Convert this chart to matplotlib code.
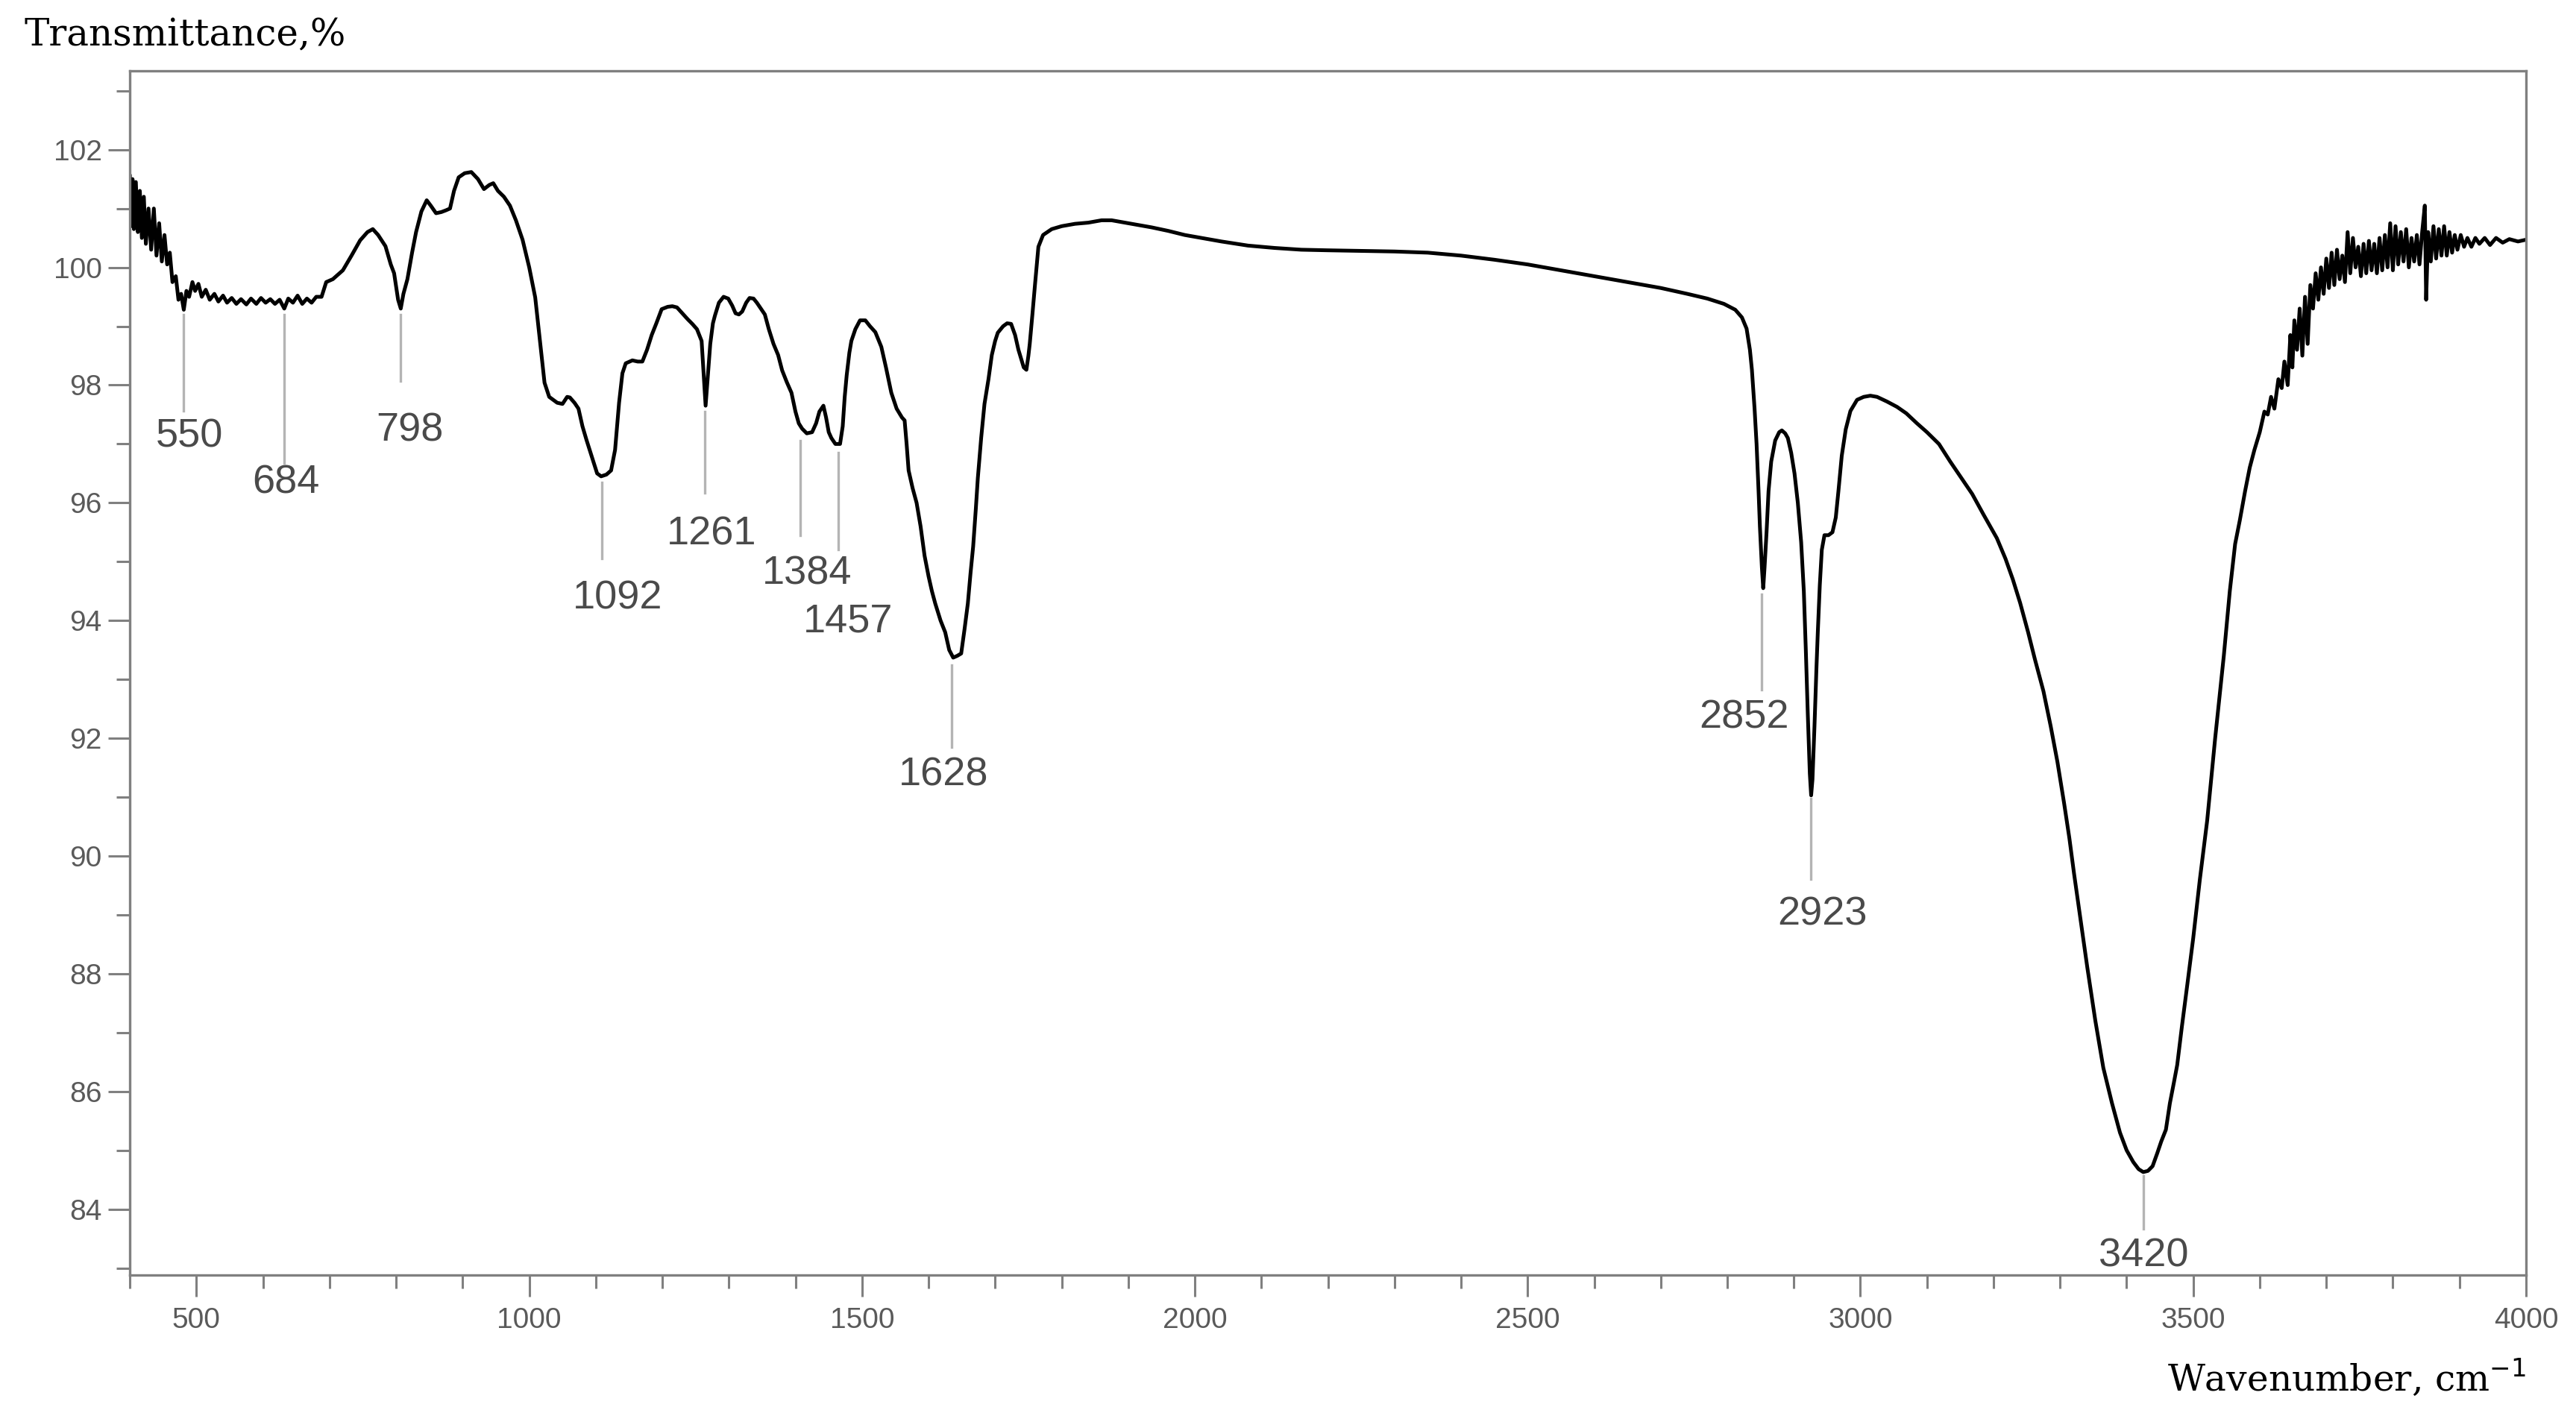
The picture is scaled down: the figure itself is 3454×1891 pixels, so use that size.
import numpy as np
import matplotlib
matplotlib.use('Agg')
import matplotlib.pyplot as plt
from matplotlib.ticker import MultipleLocator

# ---- spectrum (wavenumber cm-1 , transmittance %) ----
wavenumber = [
   400, 402, 404, 406, 409, 412, 415, 418, 421, 424, 428, 432, 436, 440, 444, 448,
   452, 456, 460, 464, 469, 473, 477, 481, 485, 489, 494, 498, 503, 508, 514, 520,
   527, 533, 540, 546, 553, 560, 567, 575, 582, 590, 597, 604, 611, 618, 625, 632,
   638, 645, 652, 659, 666, 673, 680, 688, 695, 705, 720, 733, 746, 757, 765, 773,
   784, 792, 797, 803, 807, 811, 817, 824, 830, 838, 846, 852, 860, 868, 875, 881,
   887, 894, 903, 913, 923, 932, 940, 946, 953, 962, 971, 980, 990, 1000, 1009, 1016,
   1023, 1030, 1042, 1050, 1057, 1061, 1068, 1074, 1080, 1086, 1095, 1102, 1108, 1116, 1123, 1129,
   1135, 1140, 1145, 1155, 1163, 1170, 1177, 1184, 1191, 1199, 1208, 1215, 1222, 1230, 1238, 1245,
   1252, 1259, 1262, 1265, 1268, 1272, 1276, 1279, 1285, 1292, 1299, 1305, 1310, 1315, 1320, 1326,
   1331, 1337, 1342, 1348, 1354, 1360, 1367, 1374, 1380, 1387, 1394, 1400, 1405, 1410, 1417, 1425,
   1431, 1436, 1442, 1446, 1450, 1454, 1460, 1467, 1471, 1474, 1477, 1481, 1484, 1490, 1497, 1505,
   1512, 1520, 1529, 1536, 1544, 1552, 1560, 1564, 1567, 1570, 1576, 1582, 1588, 1594, 1600, 1605,
   1610, 1618, 1625, 1631, 1637, 1643, 1649, 1654, 1659, 1663, 1667, 1671, 1674, 1679, 1684, 1690,
   1695, 1700, 1704, 1712, 1718, 1724, 1730, 1735, 1739, 1743, 1747, 1750, 1752, 1756, 1760, 1765,
   1772, 1785, 1800, 1820, 1840, 1860, 1875, 1890, 1910, 1935, 1960, 1985, 2010, 2040, 2080, 2120,
   2160, 2200, 2250, 2300, 2350, 2400, 2450, 2500, 2550, 2600, 2650, 2700, 2740, 2770, 2795, 2812,
   2822, 2829, 2834, 2837, 2841, 2844, 2847, 2849, 2852, 2854, 2856, 2859, 2862, 2866, 2872, 2878,
   2882, 2887, 2891, 2896, 2901, 2906, 2911, 2915, 2918, 2921, 2924, 2926, 2928, 2931, 2934, 2936,
   2939, 2942, 2946, 2952, 2958, 2963, 2967, 2972, 2978, 2985, 2995, 3005, 3015, 3025, 3040, 3055,
   3069, 3085, 3100, 3118, 3135, 3150, 3168, 3185, 3205, 3218, 3229, 3240, 3252, 3262, 3275, 3286,
   3296, 3306, 3314, 3321, 3331, 3341, 3353, 3365, 3378, 3390, 3400, 3410, 3418, 3425, 3432, 3439,
   3446, 3452, 3459, 3465, 3471, 3476, 3483, 3491, 3500, 3510, 3521, 3533, 3546, 3555, 3563, 3570,
   3578, 3585, 3592, 3600, 3607, 3612, 3617, 3622, 3628, 3633, 3637, 3642, 3646, 3649, 3652, 3656,
   3660, 3664, 3668, 3672, 3676, 3680, 3684, 3688, 3692, 3696, 3700, 3704, 3708, 3712, 3716, 3720,
   3724, 3728, 3732, 3736, 3740, 3744, 3748, 3752, 3756, 3760, 3764, 3768, 3772, 3776, 3780, 3784,
   3788, 3792, 3796, 3800, 3804, 3808, 3812, 3816, 3820, 3824, 3828, 3832, 3836, 3840, 3844, 3848,
   3850, 3853, 3857, 3861, 3865, 3869, 3873, 3877, 3881, 3885, 3889, 3893, 3897, 3902, 3907, 3912,
   3918, 3924, 3930, 3938, 3946, 3955, 3965, 3975, 3988, 4000,
]
transmittance = [
   101.55, 100.7, 101.5, 100.65, 101.45, 100.6, 101.3, 100.5, 101.2, 100.4, 101.0, 100.3, 101.0, 100.2, 100.75, 100.1,
   100.55, 100.05, 100.25, 99.75, 99.85, 99.45, 99.55, 99.28, 99.6, 99.5, 99.75, 99.6, 99.72, 99.5, 99.62, 99.45,
   99.55, 99.42, 99.52, 99.4, 99.48, 99.38, 99.46, 99.37, 99.47, 99.38, 99.48, 99.4, 99.46, 99.38, 99.45, 99.3,
   99.47, 99.4, 99.52, 99.38, 99.47, 99.4, 99.5, 99.5, 99.75, 99.8, 99.95, 100.2, 100.46, 100.6, 100.65, 100.55,
   100.36, 100.05, 99.9, 99.45, 99.3, 99.55, 99.8, 100.25, 100.6, 100.95, 101.14, 101.05, 100.92, 100.94, 100.97, 101.0,
   101.3, 101.53, 101.6, 101.62, 101.5, 101.33, 101.4, 101.43, 101.3, 101.2, 101.05, 100.8, 100.47, 100.0, 99.49, 98.76,
   98.04, 97.8, 97.7, 97.68, 97.8, 97.79, 97.7, 97.6, 97.3, 97.07, 96.75, 96.5, 96.45, 96.48, 96.55, 96.9,
   97.7, 98.2, 98.37, 98.42, 98.4, 98.4, 98.6, 98.85, 99.05, 99.29, 99.33, 99.34, 99.32, 99.22, 99.12, 99.04,
   98.95, 98.75, 98.2, 97.65, 98.1, 98.7, 99.05, 99.18, 99.4, 99.5, 99.47, 99.35, 99.22, 99.2, 99.25, 99.4,
   99.48, 99.47, 99.4, 99.3, 99.2, 98.95, 98.7, 98.51, 98.25, 98.05, 97.87, 97.55, 97.35, 97.26, 97.18, 97.2,
   97.35, 97.55, 97.65, 97.45, 97.2, 97.1, 97.0, 97.0, 97.3, 97.8, 98.17, 98.55, 98.75, 98.95, 99.1, 99.1,
   99.0, 98.9, 98.65, 98.3, 97.87, 97.6, 97.45, 97.4, 97.0, 96.55, 96.25, 96.0, 95.6, 95.1, 94.75, 94.5,
   94.29, 94.0, 93.8, 93.5, 93.37, 93.4, 93.44, 93.85, 94.29, 94.8, 95.26, 95.9, 96.42, 97.1, 97.68, 98.1,
   98.51, 98.75, 98.89, 99.0, 99.05, 99.04, 98.85, 98.6, 98.45, 98.3, 98.26, 98.5, 98.7, 99.2, 99.72, 100.35,
   100.55, 100.65, 100.7, 100.74, 100.76, 100.8, 100.8, 100.77, 100.73, 100.68, 100.62, 100.55, 100.5, 100.44, 100.37, 100.33,
   100.3, 100.29, 100.28, 100.27, 100.25, 100.2, 100.13, 100.05, 99.95, 99.85, 99.75, 99.65, 99.55, 99.47, 99.38, 99.28,
   99.15, 98.96, 98.6, 98.26, 97.6, 97.0, 96.2, 95.6, 94.9, 94.55, 94.9, 95.5, 96.2, 96.7, 97.06, 97.2,
   97.23, 97.18, 97.1, 96.85, 96.5, 96.0, 95.33, 94.5, 93.5, 92.4, 91.4, 91.03, 91.3, 92.2, 93.2, 93.8,
   94.6, 95.2, 95.45, 95.45, 95.5, 95.75, 96.2, 96.8, 97.25, 97.56, 97.75, 97.8, 97.82, 97.8, 97.72, 97.63,
   97.52, 97.35, 97.2, 97.0, 96.7, 96.45, 96.15, 95.8, 95.4, 95.05, 94.7, 94.3, 93.8, 93.35, 92.8, 92.2,
   91.6, 90.9, 90.3, 89.7, 88.9, 88.1, 87.2, 86.4, 85.8, 85.3, 85.0, 84.8, 84.68, 84.63, 84.65, 84.73,
   84.95, 85.15, 85.35, 85.8, 86.15, 86.45, 87.1, 87.8, 88.6, 89.6, 90.6, 92.0, 93.4, 94.5, 95.3, 95.7,
   96.2, 96.6, 96.9, 97.2, 97.55, 97.5, 97.8, 97.6, 98.1, 97.95, 98.4, 98.0, 98.85, 98.3, 99.1, 98.6,
   99.3, 98.5, 99.5, 98.7, 99.7, 99.3, 99.9, 99.45, 100.0, 99.55, 100.15, 99.65, 100.25, 99.7, 100.3, 99.8,
   100.2, 99.75, 100.6, 99.9, 100.5, 100.0, 100.35, 99.85, 100.4, 99.9, 100.45, 99.95, 100.4, 99.9, 100.5, 99.95,
   100.55, 100.0, 100.75, 99.95, 100.7, 100.05, 100.6, 100.1, 100.65, 100.0, 100.5, 100.1, 100.55, 100.05, 100.6, 101.05,
   99.45, 100.6, 100.1, 100.7, 100.15, 100.65, 100.2, 100.7, 100.2, 100.6, 100.25, 100.55, 100.3, 100.55, 100.35, 100.5,
   100.35, 100.5, 100.4, 100.5, 100.38, 100.5, 100.42, 100.48, 100.44, 100.47,
]

# ---- peak annotations ----
peak_labels = ['550', '684', '798', '1092', '1261', '1384', '1457', '1628', '2852', '2923', '3420']
peak_line_x = [481, 632, 807, 1109, 1264, 1407, 1464, 1635, 2852, 2926, 3425]
peak_line_top = [99.2, 99.2, 99.2, 96.35, 97.55, 97.05, 96.85, 93.24, 94.44, 90.98, 84.57]
peak_line_bottom = [97.56, 96.67, 98.07, 95.05, 96.17, 95.45, 95.2, 91.85, 92.82, 89.61, 83.67]
# label centres (layout)
label_x = [489, 634, 820, 1133, 1274, 1417, 1479, 1622, 2825, 2943, 3425]
label_y = [97.12, 96.34, 97.23, 94.38, 95.47, 94.8, 93.98, 91.37, 92.35, 89.0, 83.2]

GRAY = '#808080'

fig = plt.figure(figsize=(34.55, 18.91), dpi=100)
ax = fig.add_axes([0.0504, 0.0957, 0.9299, 0.8541])

ax.plot(wavenumber, transmittance, color='black', linewidth=3.6, solid_joinstyle='round')

for i in range(len(peak_labels)):
   ax.plot([peak_line_x[i], peak_line_x[i]], [peak_line_top[i], peak_line_bottom[i]],
           color='#b4b4b4', linewidth=2.4, zorder=1)
   ax.text(label_x[i], label_y[i], peak_labels[i], ha='center', va='center',
           fontsize=39, color='#4a4a4a', family='Liberation Sans')

ax.set_xlim(400, 4000)
ax.set_ylim(82.88, 103.34)

ax.xaxis.set_major_locator(MultipleLocator(500))
ax.xaxis.set_minor_locator(MultipleLocator(100))
ax.yaxis.set_major_locator(MultipleLocator(2))
ax.yaxis.set_minor_locator(MultipleLocator(1))
ax.set_xticks([500, 1000, 1500, 2000, 2500, 3000, 3500, 4000])

for s in ax.spines.values():
   s.set_color(GRAY)
   s.set_linewidth(2.4)

ax.tick_params(which='major', direction='out', length=21, width=2.2, color=GRAY,
               labelsize=28, labelcolor='#5a5a5a', pad=6)
ax.tick_params(which='minor', direction='out', length=13, width=2.2, color=GRAY)
ax.tick_params(axis='x', which='major', pad=10)
for lab in ax.get_xticklabels() + ax.get_yticklabels():
   lab.set_family('Liberation Sans')

fig.text(0.0095, 0.975, 'Transmittance,%', ha='left', va='center',
         fontsize=36, family='DejaVu Serif', color='black')
fig.text(0.9803, 0.023, 'Wavenumber, cm$^{-1}$', ha='right', va='center',
         fontsize=35, family='DejaVu Serif', color='black')

fig.savefig('out.png', dpi=100)
